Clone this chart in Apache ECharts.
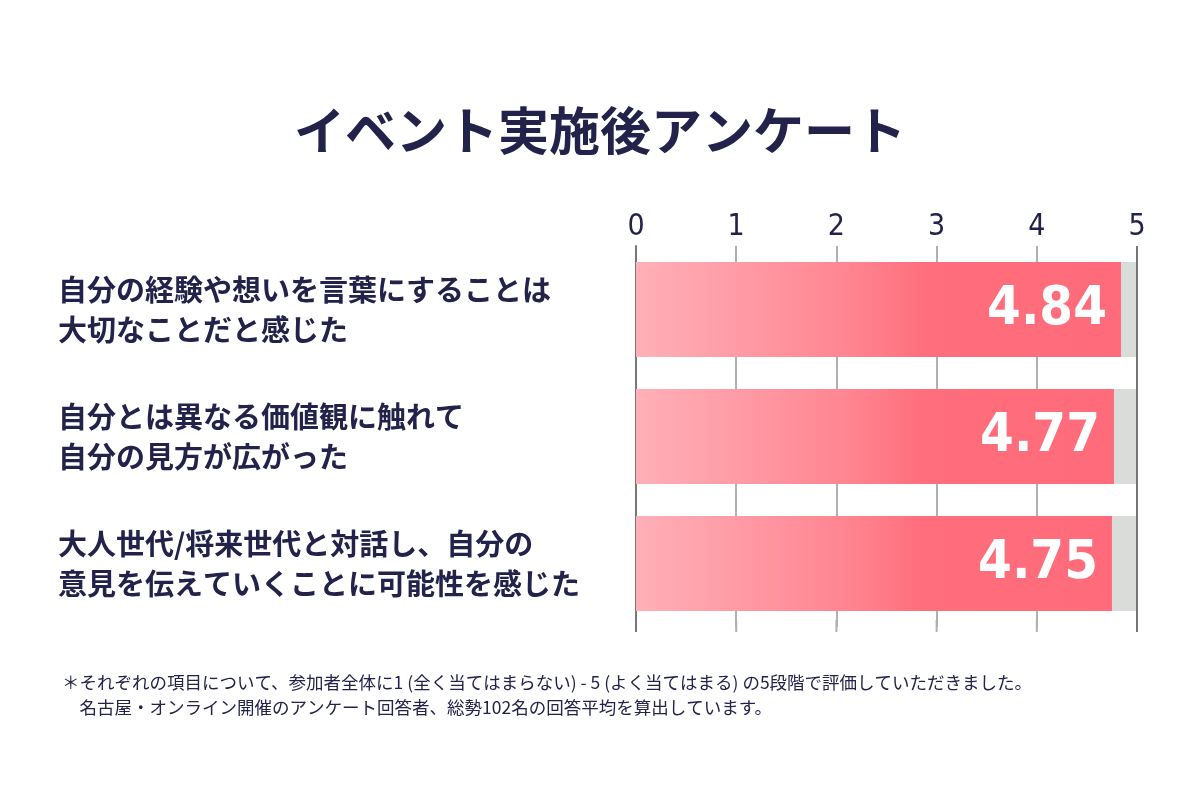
<!DOCTYPE html>
<html><head><meta charset="utf-8">
<script src="https://cdn.jsdelivr.net/npm/echarts@6/dist/echarts.min.js"></script>
<style>html,body{margin:0;background:#fff}#c{width:1200px;height:788px}</style>
</head><body><div id="c"></div>
<script>
const categories = ["自分の経験や想いを言葉にすることは\n大切なことだと感じた","自分とは異なる価値観に触れて\n自分の見方が広がった","大人世代/将来世代と対話し、自分の\n意見を伝えていくことに可能性を感じた"];
const values = [4.84, 4.77, 4.75];
const maxValues = [5, 5, 5];
const tickLabels = ["0","1","2","3","4","5"];
const navy = "#22224a";
const chart = echarts.init(document.getElementById('c'));
const ext = [0,1,2,3,4].map(i=>({type:'line',shape:{x1:636+i*100.2,y1:620,x2:636+i*100.2,y2:632},style:{stroke:i===0?'#777':'#b0b0b0',lineWidth:2},z:0}));
chart.setOption({
  backgroundColor:'#fff',
  animation:false,
  title:{text:"イベント実施後アンケート",left:'center',top:100,textStyle:{fontFamily:'Noto Sans CJK JP',fontWeight:'bold',fontSize:51,color:navy}},
  grid:{left:636,right:63,top:246,bottom:161},
  xAxis:{type:'value',min:0,max:5,interval:1,position:'top',
    axisLine:{show:false},axisTick:{show:false},
    axisLabel:{margin:4,fontSize:30,color:navy,fontFamily:'DejaVu Sans Condensed',fontWeight:'lighter',formatter:v=>tickLabels[v]},
    splitLine:{show:true,lineStyle:{color:'#b0b0b0',width:2}}},
  yAxis:{type:'category',data:categories,inverse:true,
    axisLine:{show:true,lineStyle:{color:'#777',width:2}},axisTick:{show:false},
    axisLabel:{align:'left',margin:578,fontSize:29,fontWeight:'bold',lineHeight:40,color:navy,fontFamily:'Noto Sans CJK JP'}},
  graphic:[
    {type:'line',shape:{x1:1137,y1:246,x2:1137,y2:632},style:{stroke:'#777',lineWidth:2},z:10},
    ...ext,
    {type:'text',left:62,top:670,style:{text:"＊それぞれの項目について、参加者全体に1 (全く当てはまらない) - 5 (よく当てはまる) の5段階で評価していただきました。\n　名古屋・オンライン開催のアンケート回答者、総勢102名の回答平均を算出しています。",fontSize:17.5,lineHeight:25,fill:navy,fontFamily:'Noto Sans CJK JP'}}
  ],
  series:[
    {type:'bar',data:maxValues,barWidth:95,barGap:'-100%',itemStyle:{color:'#dadcda'},silent:true,z:1},
    {type:'bar',data:values,barWidth:95,z:2,
      itemStyle:{color:new echarts.graphic.LinearGradient(0,0,1,0,[{offset:0,color:'#ffb0b8'},{offset:0.45,color:'#ff8490'},{offset:0.6,color:'#ff6e7c'},{offset:1,color:'#ff6b7a'}])},
      label:{show:true,position:'insideRight',distance:14,color:'#fff',fontSize:54,fontWeight:'bold',fontFamily:'Liberation Sans Narrow, DejaVu Sans Condensed',formatter:p=>p.value.toFixed(2)}}
  ]
});
</script></body></html>
